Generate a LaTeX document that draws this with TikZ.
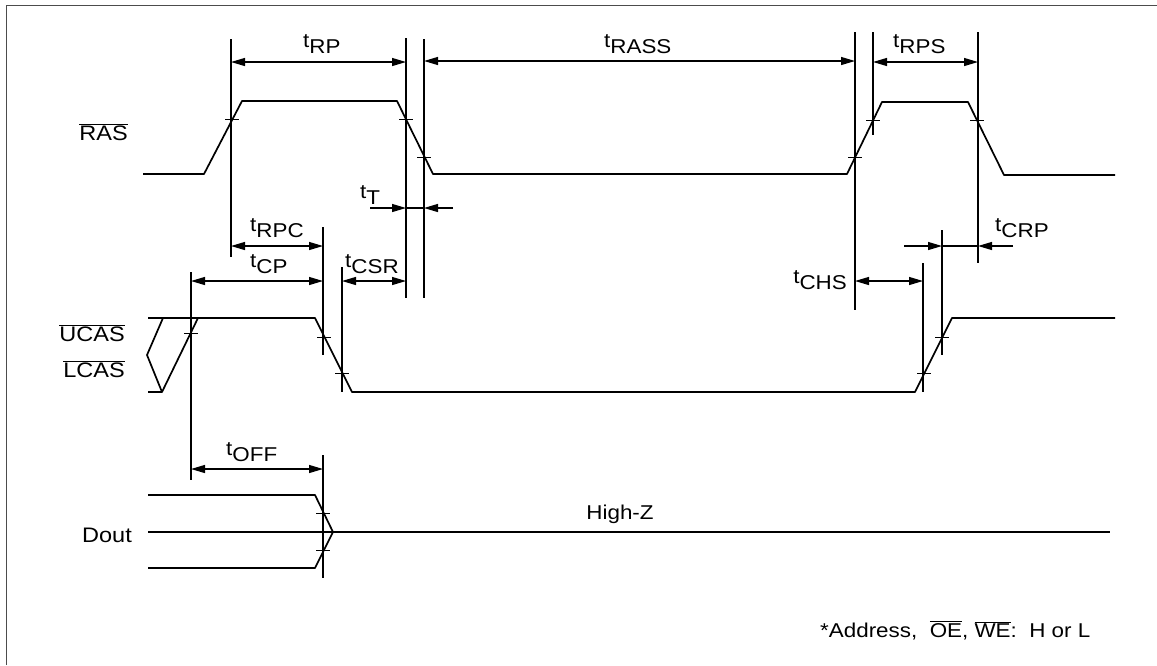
\documentclass[tikz,border=0pt]{standalone}
\usepackage{fontspec}
\setmainfont{Liberation Sans}[FakeStretch=1.12]
\usetikzlibrary{arrows.meta}
\newcommand\tlab[1]{t\raisebox{-6pt}{#1}}
\newcommand\ovl[1]{$\overline{\mbox{#1}}$}
\tikzset{
  sig/.style={line width=1.7pt, line join=round},
  vline/.style={line width=1.1pt},
  thickvline/.style={line width=1.6pt},
  tickst/.style={line width=0.9pt},
  dimarrow/.style={line width=1.2pt, {Triangle[length=14pt,width=8pt]}-{Triangle[length=14pt,width=8pt]}},
  onearrow/.style={line width=1.2pt, -{Triangle[length=14pt,width=8pt]}},
  lab/.style={font=\fontsize{20}{22}\selectfont, inner sep=0pt},
  siglab/.style={font=\fontsize{21}{23}\selectfont, inner sep=0pt},
  frameln/.style={line width=0.9pt, black!70}
}
\newcommand\tk[2]{\draw[tickst] (#1-7,#2) -- (#1+7,#2);}
\begin{document}
\begin{tikzpicture}[x=1pt,y=-1pt]
\useasboundingbox (0,0) rectangle (1157,665);
% frame
\coordinate (fA) at (6,665);
\coordinate (fB) at (6,5);
\coordinate (fC) at (1157,5);
\draw[frameln] (fA) -- (fB) -- (fC);

% signal labels
\node[siglab, anchor=base east] (ras) at (128,140) {\ovl{RAS}};
\node[siglab, anchor=base east] (ucas) at (125,341) {\ovl{UCAS}};
\node[siglab, anchor=base east] (lcas) at (125,377) {\ovl{LCAS}};
\node[siglab, anchor=base east] (dout) at (132,542) {Dout};
\node[lab, anchor=base] (hiz) at (620,519) {High-Z};
\node[lab, anchor=base west] (note) at (820,637) {*Address,\ \ \ovl{OE}, \ovl{WE}:\ \ H or L};

% RAS waveform
\draw[sig] (143,174) -- (204,174) -- (242,101) -- (397,101) -- (433,174)
  -- (847,174) -- (882,102) -- (968,102) -- (1004,175) -- (1115,175);
% CAS waveform
\draw[sig] (148,318) -- (315,318) -- (352,392) -- (915,392) -- (952,318) -- (1115,318);
\draw[sig] (148,392) -- (162,392) -- (198,318);
\draw[sig] (163,318) -- (147,355) -- (162,392);
% Dout waveform
\draw[sig] (148,495) -- (315,495) -- (333,532);
\draw[sig] (148,568) -- (315,568) -- (333,532);
\draw[sig] (148,532) -- (1110,532);

% vertical timing lines
\coordinate (v1t) at (231,39);  \coordinate (v1b) at (231,257);
\coordinate (v2t) at (406,38);  \coordinate (v2b) at (406,298);
\coordinate (v3t) at (424,39);  \coordinate (v3b) at (424,298);
\coordinate (v4t) at (855,32);  \coordinate (v4b) at (855,310);
\coordinate (v5t) at (873,32);  \coordinate (v5b) at (873,135);
\coordinate (v6t) at (978,32);  \coordinate (v6b) at (978,263);
\coordinate (v7t) at (323,227); \coordinate (v7b) at (323,355);
\coordinate (v8t) at (342,267); \coordinate (v8b) at (342,392);
\coordinate (v9t) at (923,263); \coordinate (v9b) at (923,392);
\coordinate (v10t) at (942,230); \coordinate (v10b) at (942,355);
\coordinate (v11t) at (191,272); \coordinate (v11b) at (191,480);
\coordinate (v12t) at (323,455); \coordinate (v12b) at (323,578);
\foreach \i in {1,3,4,5,6,7,8,9,10,11,12}{\draw[vline] (v\i t) -- (v\i b);}
\draw[thickvline] (v2t) -- (v2b);

% ticks
\tk{232}{119} \tk{406}{119} \tk{424}{157}
\tk{855}{157} \tk{873}{120} \tk{977}{120}
\tk{191}{333} \tk{324}{337} \tk{342}{373}
\tk{924}{373} \tk{942}{337}
\tk{323}{513} \tk{323}{550}

% dimension arrows
\coordinate (rpA) at (231,62);  \coordinate (rpB) at (406,62);
\draw[dimarrow] (rpA) -- (rpB);
\coordinate (rassA) at (424,61); \coordinate (rassB) at (855,61);
\draw[dimarrow] (rassA) -- (rassB);
\coordinate (rpsA) at (873,62); \coordinate (rpsB) at (978,62);
\draw[dimarrow] (rpsA) -- (rpsB);
\coordinate (tTl) at (370,208); \coordinate (tTa) at (406,208);
\coordinate (tTb) at (424,208); \coordinate (tTr) at (453,208);
\draw[line width=1.2pt] (tTa) -- (tTb);
\draw[onearrow] (tTl) -- (tTa);
\draw[onearrow] (tTr) -- (tTb);
\coordinate (rpcA) at (231,246); \coordinate (rpcB) at (323,246);
\draw[dimarrow] (rpcA) -- (rpcB);
\coordinate (cpA) at (191,281); \coordinate (cpB) at (323,281);
\draw[dimarrow] (cpA) -- (cpB);
\coordinate (csrA) at (342,281); \coordinate (csrB) at (406,281);
\draw[dimarrow] (csrA) -- (csrB);
\coordinate (chsA) at (855,281); \coordinate (chsB) at (923,281);
\draw[dimarrow] (chsA) -- (chsB);
\coordinate (crpl) at (904,246); \coordinate (crpa) at (942,246);
\coordinate (crpb) at (978,246); \coordinate (crpr) at (1013,246);
\draw[line width=1.2pt] (crpa) -- (crpb);
\draw[onearrow] (crpl) -- (crpa);
\draw[onearrow] (crpr) -- (crpb);
\coordinate (offA) at (191,469); \coordinate (offB) at (323,469);
\draw[dimarrow] (offA) -- (offB);

% timing labels
\node[lab, anchor=base west] (lrp) at (303,47) {\tlab{RP}};
\node[lab, anchor=base west] (lrass) at (604,47) {\tlab{RASS}};
\node[lab, anchor=base west] (lrps) at (893,47) {\tlab{RPS}};
\node[lab, anchor=base west] (lt) at (360,198) {\tlab{T}};
\node[lab, anchor=base west] (lrpc) at (250,231) {\tlab{RPC}};
\node[lab, anchor=base west] (lcp) at (250,267) {\tlab{CP}};
\node[lab, anchor=base west] (lcsr) at (345,267) {\tlab{CSR}};
\node[lab, anchor=base east] (lchs) at (847,283) {t\raisebox{-6pt}{CHS}};
\node[lab, anchor=base west] (lcrp) at (995,231) {\tlab{CRP}};
\node[lab, anchor=base west] (loff) at (226,455) {\tlab{OFF}};
\end{tikzpicture}
\end{document}
